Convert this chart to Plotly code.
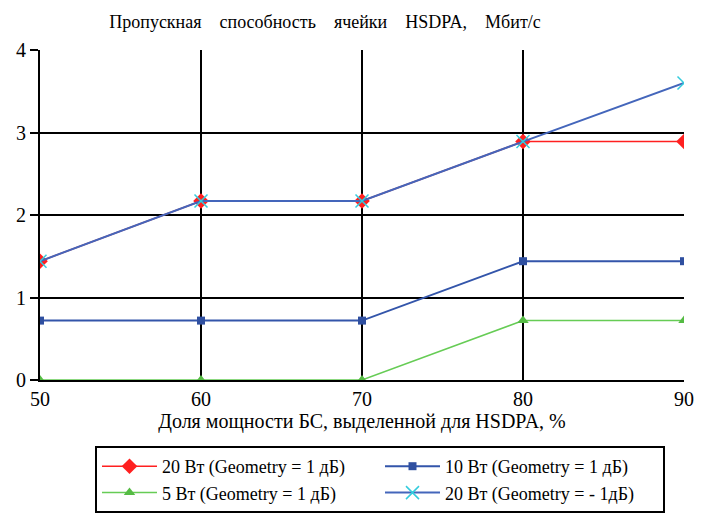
import plotly.graph_objects as go

x_share = [50, 60, 70, 80, 90]
s20_g1 = [1.44, 2.17, 2.17, 2.89, 2.89]
s10_g1 = [0.72, 0.72, 0.72, 1.44, 1.44]
s5_g1 = [0.0, 0.0, 0.0, 0.72, 0.72]
s20_gm1 = [1.44, 2.17, 2.17, 2.89, 3.6]
y_ticks = [0, 1, 2, 3, 4]

names = ["20 Вт (Geometry = 1 дБ)", "10 Вт (Geometry = 1 дБ)",
         "5 Вт (Geometry = 1 дБ)", "20 Вт (Geometry = - 1дБ)"]
title_words = ["Пропускная", "способность", "ячейки", "HSDPA,", "Мбит/с"]
x_title = "Доля мощности БС, выделенной для HSDPA, %"

FF = "Times New Roman"

def f(size):
    return dict(family=FF, size=size, color="black")

fig = go.Figure()
fig.add_trace(go.Scatter(x=x_share, y=s20_g1, name=names[0], mode="lines+markers",
                         line=dict(color="#ff2020", width=1.5),
                         marker=dict(symbol="diamond", size=12, color="#ff2020")))
fig.add_trace(go.Scatter(x=x_share, y=s10_g1, name=names[1], mode="lines+markers",
                         line=dict(color="#3355aa", width=2),
                         marker=dict(symbol="square", size=8, color="#2f4fa0")))
fig.add_trace(go.Scatter(x=x_share, y=s5_g1, name=names[2], mode="lines+markers",
                         line=dict(color="#66cc55", width=1.5),
                         marker=dict(symbol="triangle-up", size=10, color="#55bb44")))
fig.add_trace(go.Scatter(x=x_share, y=s20_gm1, name=names[3], mode="lines+markers",
                         line=dict(color="#4466bb", width=2),
                         marker=dict(symbol="x-thin", size=13,
                                     line=dict(color="#33ccdd", width=1.5))))

fig.update_layout(
    width=710, height=517,
    margin=dict(l=40, r=26, t=50, b=137, autoexpand=False),
    paper_bgcolor="white", plot_bgcolor="white",
    font=f(17),
    title=dict(text="\u2002\u2002".join(title_words),
               x=325/710, xanchor="center", xref="container",
               y=1 - 22/517, yanchor="middle", yref="container",
               font=f(18)),
    xaxis=dict(range=[50, 90], tickvals=x_share, showgrid=True,
               gridcolor="black", gridwidth=2, zeroline=False,
               showline=True, linecolor="black", linewidth=2,
               tickfont=f(20), ticks="",
               title=dict(text=x_title, font=f(20), standoff=0)),
    yaxis=dict(range=[0, 4], tickvals=y_ticks, showgrid=True,
               gridcolor="black", gridwidth=2, zeroline=False,
               showline=True, linecolor="black", linewidth=2,
               ticks="outside", ticklen=8, tickcolor="black", tickwidth=1.5,
               tickfont=f(20)),
    legend=dict(orientation="h", x=95/710, xanchor="left", xref="container",
                y=1 - 446/517, yanchor="top", yref="container",
                bordercolor="black", borderwidth=2, bgcolor="white",
                font=f(18),
                entrywidth=213, entrywidthmode="pixels",
                traceorder="normal", itemwidth=55),
)

fig.write_html("out.html", config={"displayModeBar": False},
               post_script="document.body.style.margin='0';")
